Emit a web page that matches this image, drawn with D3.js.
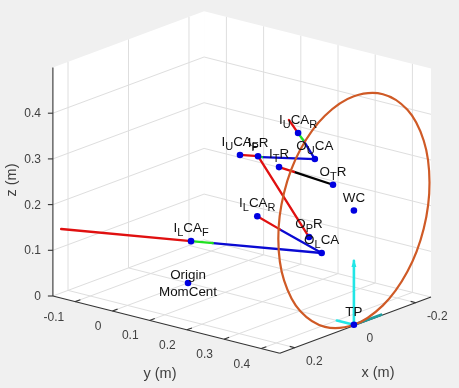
<!DOCTYPE html>
<html><head><meta charset="utf-8">
<script src="https://cdn.jsdelivr.net/npm/d3@7"></script>
<style>html,body{margin:0;padding:0;background:#f0f0f0}svg{display:block;filter:blur(0.35px)}text{font-family:"Liberation Sans",Arial,sans-serif}</style>
</head><body>
<script>
// ---- data (metres) ----
const xTicks = [-0.2, 0, 0.2];
const yTicks = [-0.1, 0, 0.1, 0.2, 0.3, 0.4];
const zTicks = [0, 0.1, 0.2, 0.3, 0.4];
const xLim = [-0.25, 0.25];
const yLim = [-0.16, 0.45];
const zLim = [0, 0.5];

// hardpoints: name, x, y, z
const hardpointNames = ["Origin","I_LCA_F","I_LCA_R","O_LCA","O_PR","I_PR","I_UCA_F","O_UCA","I_UCA_R","I_TR","O_TR","WC","TP"];
const hardpointX = [0, 0.15, -0.02, 0.05, 0.055, 0.0145, 0.0126, 0.048, -0.118, -0.055, -0.012, 0, 0];
const hardpointY = [0, 0.13, 0.17, 0.40, 0.37, 0.20, 0.15, 0.38, 0.20, 0.20, 0.38, 0.446, 0.446];
const hardpointZ = [0, 0.155, 0.176, 0.16, 0.19, 0.322, 0.314, 0.361, 0.34, 0.281, 0.29, 0.25, 0];

// link segments: x0,y0,z0, x1,y1,z1
const redLinks = [
  [0.235,-0.15,0.145, 0.15,0.13,0.155],
  [-0.02,0.17,0.176, 0.005,0.251,0.170],
  [0.0145,0.20,0.322, 0.055,0.37,0.19],
  [0.0126,0.15,0.314, 0.0145,0.20,0.322],
  [-0.118,0.20,0.34, -0.149,0.15,0.351],
  [-0.055,0.20,0.281, -0.055,0.24,0.279]
];
const greenLinks = [
  [0.15,0.13,0.155, 0.133,0.175,0.156],
  [-0.118,0.20,0.34, -0.11,0.22,0.331],
  [0.0145,0.20,0.322, 0.0136,0.21,0.322]
];
const blueLinks = [
  [0.133,0.175,0.156, 0.05,0.40,0.16],
  [0.005,0.251,0.170, 0.05,0.40,0.16],
  [0.0136,0.21,0.322, 0.048,0.38,0.361],
  [-0.11,0.22,0.331, 0.048,0.38,0.361]
];
const blackLinks = [[-0.055,0.24,0.279, -0.012,0.38,0.29]];
const tireVectors = [
  {c:"#1e9c9c", v:[0,0.446,0, -0.09,0.446,0]},
  {c:"#22e6e6", v:[0,0.446,0, 0,0.40,0]},
  {c:"#22e6e6", v:[0,0.446,0, 0,0.446,0.14]}
];
// wheel rim outline
const wheelX = [0.25,0.231,0.177,0.096,0,-0.096,-0.177,-0.231,-0.25,-0.231,-0.177,-0.096,0,0.096,0.177,0.231];
const wheelZ = [0.25,0.346,0.427,0.481,0.50,0.481,0.427,0.346,0.25,0.154,0.073,0.019,0,0.019,0.073,0.154];
const wheelY = 0.446;

// ---- scales: each axis contributes a screen offset ----
const W = 459, H = 388;
const sxX = d3.scaleLinear().domain(xLim).range([75.6,-75.6]);
const sxY = d3.scaleLinear().domain(xLim).range([-28.1,28.1]);
const syX = d3.scaleLinear().domain(yLim).range([128.5,355.4]);
const syY = d3.scaleLinear().domain(yLim).range([267.9,325.2]);
const szY = d3.scaleLinear().domain(zLim).range([0,-228.5]);
const P = (x,y,z)=>[sxX(x)+syX(y), sxY(x)+syY(y)+szY(z)];
const line = d3.line();

const svg = d3.select("body").append("svg").attr("width",W).attr("height",H);
svg.append("rect").attr("width",W).attr("height",H).attr("fill","#f0f0f0");

const [x0,x1]=xLim,[y0,y1]=yLim,[z0,z1]=zLim;
// walls & floor
[[[x1,y0,z0],[x0,y0,z0],[x0,y0,z1],[x1,y0,z1]],
 [[x0,y0,z0],[x0,y1,z0],[x0,y1,z1],[x0,y0,z1]],
 [[x1,y0,z0],[x1,y1,z0],[x0,y1,z0],[x0,y0,z0]]].forEach(q=>{
  svg.append("path").attr("d",line(q.map(p=>P(...p)))+"Z").attr("fill","#fff");
});
// grid
const grid = svg.append("g").attr("fill","none").attr("stroke","#dedede").attr("stroke-width",1);
const seg=(g,a,b)=>g.append("path").attr("d",line([P(...a),P(...b)]));
xTicks.forEach(t=>{seg(grid,[t,y0,z0],[t,y1,z0]);seg(grid,[t,y0,z0],[t,y0,z1]);});
yTicks.forEach(t=>{seg(grid,[x0,t,z0],[x1,t,z0]);seg(grid,[x0,t,z0],[x0,t,z1]);});
zTicks.forEach(t=>{seg(grid,[x1,y0,t],[x0,y0,t]);seg(grid,[x0,y0,t],[x0,y1,t]);});

// axes
const axis = svg.append("g").attr("fill","none").attr("stroke","#333").attr("stroke-width",1.1);
seg(axis,[x1,y0,z0],[x1,y0,z1]);
seg(axis,[x1,y0,z0],[x1,y1,z0]);
seg(axis,[x1,y1,z0],[x0,y1,z0]);
const tl = svg.append("g").attr("fill","#404040").attr("font-size",12);
yTicks.forEach(t=>{
  const p=P(x1,t,z0);
  seg(axis,[x1,t,z0],[x1-0.017,t,z0]);
  tl.append("text").attr("x",p[0]-11).attr("y",p[1]+19).attr("text-anchor","end").text(t);
});
xTicks.forEach(t=>{
  const p=P(t,y1,z0);
  seg(axis,[t,y1,z0],[t,y1-0.014,z0]);
  tl.append("text").attr("x",p[0]+11).attr("y",p[1]+17).text(t);
});
zTicks.forEach(t=>{
  const p=P(x1,y0,t);
  axis.append("path").attr("d",line([p,[p[0]-5,p[1]]]));
  tl.append("text").attr("x",p[0]-12).attr("y",p[1]+4).attr("text-anchor","end").text(t);
});
const al = svg.append("g").attr("fill","#404040").attr("font-size",14.5).attr("text-anchor","middle");
al.append("text").attr("x",160).attr("y",378).text("y (m)");
al.append("text").attr("x",378).attr("y",377).text("x (m)");
al.append("text").attr("transform","translate(16,180) rotate(-90)").text("z (m)");

// arrow heads
const defs = svg.append("defs");
[["headRed","#e01010"],["headCyan","#22e6e6"]].forEach(([id,c])=>{
  defs.append("marker").attr("id",id).attr("viewBox","0 0 6 4").attr("refX",5).attr("refY",2)
    .attr("markerWidth",3).attr("markerHeight",2).attr("orient","auto")
    .append("path").attr("d","M0,0L6,2L0,4Z").attr("fill",c);
});

// links
const links = svg.append("g").attr("fill","none").attr("stroke-width",2.3).attr("stroke-linecap","round");
const drawSet=(set,c)=>set.forEach(s=>links.append("path").attr("stroke",c)
   .attr("d",line([P(s[0],s[1],s[2]),P(s[3],s[4],s[5])])));
drawSet(blueLinks,"#0a0ad2");
drawSet(blackLinks,"#000");
drawSet(greenLinks,"#20e020");
drawSet(redLinks,"#e01010");

// tire force vectors
tireVectors.forEach(d=>{
  const s=links.append("path").attr("stroke",d.c).attr("stroke-width",2.6)
    .attr("d",line([P(d.v[0],d.v[1],d.v[2]),P(d.v[3],d.v[4],d.v[5])]));
  if(d.v[5]>0) s.attr("marker-end","url(#headCyan)");
});

// wheel
svg.append("path").attr("fill","none").attr("stroke","#cf5a26").attr("stroke-width",2.2)
  .attr("d",d3.line().curve(d3.curveCatmullRomClosed.alpha(0.5))(wheelX.map((x,i)=>P(x,wheelY,wheelZ[i]))));

// markers
svg.append("g").selectAll("circle").data(hardpointNames).join("circle")
  .attr("cx",(d,i)=>P(hardpointX[i],hardpointY[i],hardpointZ[i])[0])
  .attr("cy",(d,i)=>P(hardpointX[i],hardpointY[i],hardpointZ[i])[1])
  .attr("r",3.3).attr("fill","#0000e0");

// labels
const lab = svg.append("g").attr("fill","#111").attr("font-size",13.4).attr("text-anchor","middle");
function label(name,i){
  const p=P(hardpointX[i],hardpointY[i],hardpointZ[i]);
  const t=lab.append("text").attr("x",p[0]).attr("y",p[1]-9);
  name.split("_").forEach((part,k)=>{
    if(k===0){t.append("tspan").text(part);return;}
    t.append("tspan").attr("font-size",11).attr("dy",4).text(part[0]);
    const rest=part.slice(1);
    if(rest) t.append("tspan").attr("dy",-4).text(rest);
  });
}
hardpointNames.forEach((n,i)=>{
  if(n==="Origin"){
    const p=P(0,0,0);
    lab.append("text").attr("x",p[0]).attr("y",p[1]-4).text("Origin");
    lab.append("text").attr("x",p[0]).attr("y",p[1]+13).text("MomCent");
  } else label(n,i);
});
</script>
</body></html>
